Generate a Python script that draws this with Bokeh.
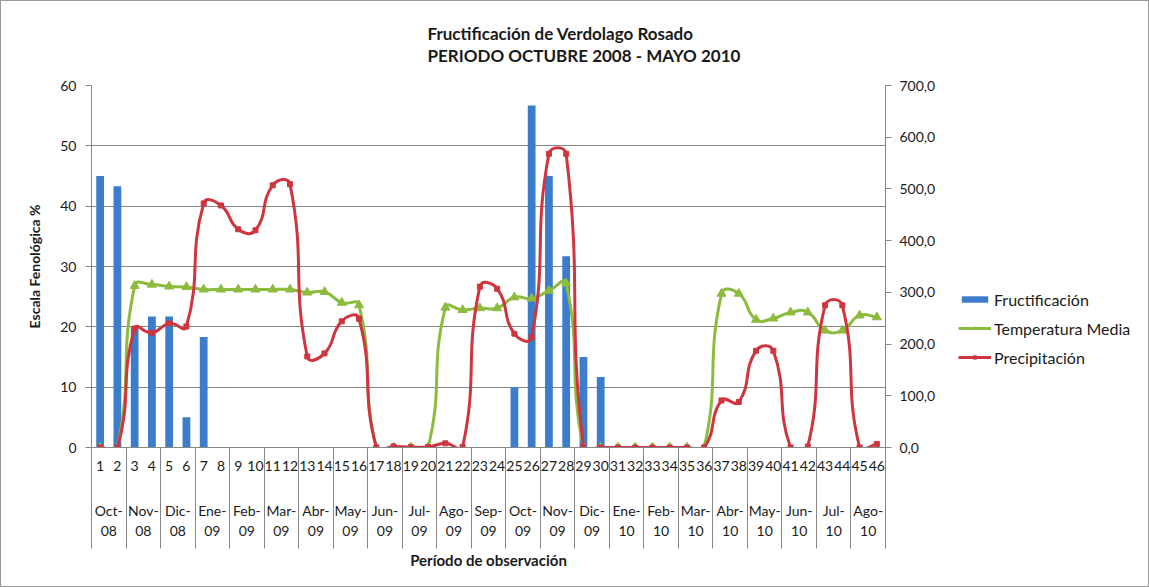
import math
from bokeh.plotting import figure
from bokeh.layouts import row
from bokeh.models import (Range1d, LinearAxis, FixedTicker, Legend, LegendItem,
                          ColumnDataSource)
from bokeh.embed import file_html
from bokeh.resources import INLINE

# ---------------- data ----------------
periodos = list(range(1, 47))
meses = ["Oct-\n08", "Nov-\n08", "Dic-\n08", "Ene-\n09", "Feb-\n09", "Mar-\n09",
         "Abr-\n09", "May-\n09", "Jun-\n09", "Jul-\n09", "Ago-\n09", "Sep-\n09",
         "Oct-\n09", "Nov-\n09", "Dic-\n09", "Ene-\n10", "Feb-\n10", "Mar-\n10",
         "Abr-\n10", "May-\n10", "Jun-\n10", "Jul-\n10", "Ago-\n10"]

fructificacion = [45.0, 43.3, 20.0, 21.7, 21.7, 5.0, 18.3, 0, 0, 0,
                  0, 0, 0, 0, 0, 0, 0, 0, 0, 0,
                  0, 0, 0, 0, 10.0, 56.7, 45.0, 31.7, 15.0, 11.7,
                  0, 0, 0, 0, 0, 0, 0, 0, 0, 0,
                  0, 0, 0, 0, 0, 0]

temperatura = [0, 0, 26.8, 27.0, 26.7, 26.6, 26.2, 26.2, 26.2, 26.2,
               26.2, 26.2, 25.7, 25.8, 24.0, 23.6, 0, 0, 0, 0,
               23.2, 22.8, 23.1, 23.1, 24.9, 24.7, 26.0, 27.2, 0, 0,
               0, 0, 0, 0, 0, 0, 25.5, 25.5, 21.2, 21.4,
               22.4, 22.4, 19.4, 19.4, 21.9, 21.6]

precipitacion = [0, 0, 230, 222, 240, 234, 472, 468, 422, 420,
                 507, 509, 176, 182, 244, 249, 0, 2, 1, 1,
                 8, 1, 311, 307, 220, 213, 568, 568, 0, 0,
                 0, 0, 0, 0, 0, 0, 91, 88, 187, 187,
                 0, 2, 275, 275, 0, 7]

ticks_izq = [0, 10, 20, 30, 40, 50, 60]
ticks_der = [0, 100, 200, 300, 400, 500, 600, 700]

# ---------------- layout ----------------
FW, FH = 794, 362
BL, BR, BT, BB = 90, 60, 84, 139
TOTAL_W, TOTAL_H = 1147, 585
FONT = "Lato"
GRAY = "#868686"
TXT = "#1a1a1a"
BLUE, GREEN, RED = "#3B7DCB", "#8DBB3E", "#CF353E"


def smooth(xs, ys, sx, sy, t=0.5):
    """Excel-like smoothed line as cubic Bezier segments (screen-space tension)."""
    P = [(x * sx, y * sy) for x, y in zip(xs, ys)]
    n = len(P)

    def ctrl(i):
        p1 = P[i]
        p0 = P[i - 1] if i > 0 else p1
        p2 = P[i + 1] if i < n - 1 else p1
        d01 = math.hypot(p1[0] - p0[0], p1[1] - p0[1])
        d12 = math.hypot(p2[0] - p1[0], p2[1] - p1[1])
        s = d01 + d12
        if s == 0:
            return p1, p1
        fa, fb = t * d01 / s, t * d12 / s
        dx, dy = p2[0] - p0[0], p2[1] - p0[1]
        return (p1[0] - fa * dx, p1[1] - fa * dy), (p1[0] + fb * dx, p1[1] + fb * dy)

    c = [ctrl(i) for i in range(n)]
    d = dict(x0=[], y0=[], x1=[], y1=[], cx0=[], cy0=[], cx1=[], cy1=[])
    for i in range(n - 1):
        d["x0"].append(xs[i]); d["y0"].append(ys[i])
        d["x1"].append(xs[i + 1]); d["y1"].append(ys[i + 1])
        d["cx0"].append(c[i][1][0] / sx); d["cy0"].append(c[i][1][1] / sy)
        d["cx1"].append(c[i + 1][0][0] / sx); d["cy1"].append(c[i + 1][0][1] / sy)
    return ColumnDataSource(d)


x_range = Range1d(0.5, len(periodos) + 0.5)
p = figure(frame_width=FW, frame_height=FH, x_range=x_range,
           y_range=Range1d(ticks_izq[0], ticks_izq[-1]),
           output_backend="svg", toolbar_location=None, x_axis_type=None,
           min_border_left=BL, min_border_right=BR, min_border_top=BT, min_border_bottom=BB,
           background_fill_color="white", border_fill_color="white")
p.outline_line_color = None
p.extra_y_ranges = {"der": Range1d(ticks_der[0], ticks_der[-1])}

# title (two lines)
p.title.text = "Fructificación de Verdolago Rosado\nPERIODO OCTUBRE 2008 - MAYO 2010"
p.title.align = "left"
p.title.offset = 336
p.title.text_font = FONT
p.title.text_font_size = "17px"
p.title.text_font_style = "bold"
p.title.text_color = TXT
p.title.text_line_height = 1.05
p.title.standoff = 38

# left axis
ya = p.yaxis[0]
ya.ticker = FixedTicker(ticks=ticks_izq)
ya.axis_label = "Escala Fenológica %"
ya.axis_label_text_font = FONT
ya.axis_label_text_font_size = "14px"
ya.axis_label_text_font_style = "bold"
ya.axis_label_text_color = TXT
ya.axis_label_standoff = 14
ya.major_label_text_font = FONT
ya.major_label_text_font_size = "14px"
ya.major_label_text_color = TXT
ya.major_label_standoff = 9
ya.axis_line_color = GRAY
ya.major_tick_line_color = GRAY
ya.major_tick_out = 6
ya.major_tick_in = 0
ya.minor_tick_line_color = None

p.ygrid.ticker = FixedTicker(ticks=ticks_izq)
p.ygrid.grid_line_color = GRAY
p.xgrid.visible = False

# right axis
yr = LinearAxis(y_range_name="der", ticker=FixedTicker(ticks=ticks_der),
                major_label_overrides={v: f"{v},0" for v in ticks_der},
                major_label_text_font=FONT, major_label_text_font_size="14px",
                major_label_text_color=TXT, major_label_standoff=8,
                axis_line_color=GRAY, major_tick_line_color=GRAY,
                major_tick_out=6, major_tick_in=0, minor_tick_line_color=None)
p.add_layout(yr, "right")

# bottom axes: period numbers (+ month separators as long minor ticks), months
limites = [0.5 + 2 * i for i in range(len(meses) + 1)]
xb = LinearAxis(ticker=FixedTicker(ticks=periodos, minor_ticks=limites),
                major_label_overrides={i: str(i) for i in periodos},
                major_label_text_font=FONT, major_label_text_font_size="14px",
                major_label_text_color=TXT, major_label_standoff=-88,
                axis_line_color=GRAY, major_tick_line_color=None,
                major_tick_out=0, major_tick_in=0,
                minor_tick_line_color=GRAY, minor_tick_out=101, minor_tick_in=0)
p.add_layout(xb, "below")

centros = [1.5 + 2 * i for i in range(len(meses))]
xc = LinearAxis(ticker=FixedTicker(ticks=centros),
                major_label_overrides={c: m for c, m in zip(centros, meses)},
                major_label_text_font=FONT, major_label_text_font_size="14px",
                major_label_text_color=TXT, major_label_standoff=28,
                major_label_text_line_height=1.2,
                axis_line_color=None, major_tick_line_color=None,
                minor_tick_line_color=None, major_tick_out=0, major_tick_in=0,
                axis_label="Período de observación", axis_label_text_font=FONT,
                axis_label_text_font_size="15px", axis_label_text_font_style="bold",
                axis_label_text_color=TXT, axis_label_standoff=9)
p.add_layout(xc, "below")

# ---------------- glyphs ----------------
src = ColumnDataSource(dict(x=periodos, fr=fructificacion, te=temperatura, pr=precipitacion))
sx = FW / len(periodos)
s_te = smooth(periodos, temperatura, sx, FH / (ticks_izq[-1] - ticks_izq[0]))
s_pr = smooth(periodos, precipitacion, sx, FH / (ticks_der[-1] - ticks_der[0]))


def draw(fig):
    b = fig.vbar(x="x", top="fr", width=0.45, source=src, fill_color=BLUE, line_color=None)
    gl = fig.bezier(x0="x0", y0="y0", x1="x1", y1="y1", cx0="cx0", cy0="cy0",
                    cx1="cx1", cy1="cy1", source=s_te, line_color=GREEN, line_width=3)
    gp = fig.scatter(x="x", y="te", source=src, marker="triangle", size=9,
                     fill_color=GREEN, line_color=GREEN)
    rl = fig.bezier(x0="x0", y0="y0", x1="x1", y1="y1", cx0="cx0", cy0="cy0",
                    cx1="cx1", cy1="cy1", source=s_pr, line_color=RED, line_width=3,
                    y_range_name="der")
    rp = fig.scatter(x="x", y="pr", source=src, marker="square", size=5,
                     fill_color=RED, line_color=RED, y_range_name="der")
    return b, gl, gp, rl, rp


draw(p)

# ---------------- legend panel (separate plot to the right) ----------------
main_w = BL + FW + BR
p2 = figure(width=TOTAL_W - main_w, height=TOTAL_H, title=None,
            x_range=Range1d(-200, -199), y_range=Range1d(-200, -199),
            output_backend="svg", toolbar_location=None,
            x_axis_type=None, y_axis_type=None,
            min_border=0, background_fill_color="white", border_fill_color="white")
p2.extra_y_ranges = {"der": Range1d(-200, -199)}
p2.outline_line_color = None
p2.grid.visible = False
b, gl, gp, rl, rp = draw(p2)

legend = Legend(items=[LegendItem(label="Fructificación", renderers=[b]),
                       LegendItem(label="Temperatura Media", renderers=[gl, gp]),
                       LegendItem(label="Precipitación", renderers=[rl, rp])],
                location=(13, 80), glyph_width=33, glyph_height=8, label_height=20,
                spacing=9, padding=5, margin=0, label_standoff=3,
                label_text_font=FONT, label_text_font_size="16px",
                label_text_color=TXT, border_line_color=None,
                background_fill_alpha=0)
p2.add_layout(legend, "center")

layout = row(p, p2, spacing=0, styles={"border": "1px solid #9a9a9a"})

open("out.html", "w").write(file_html(layout, INLINE))
